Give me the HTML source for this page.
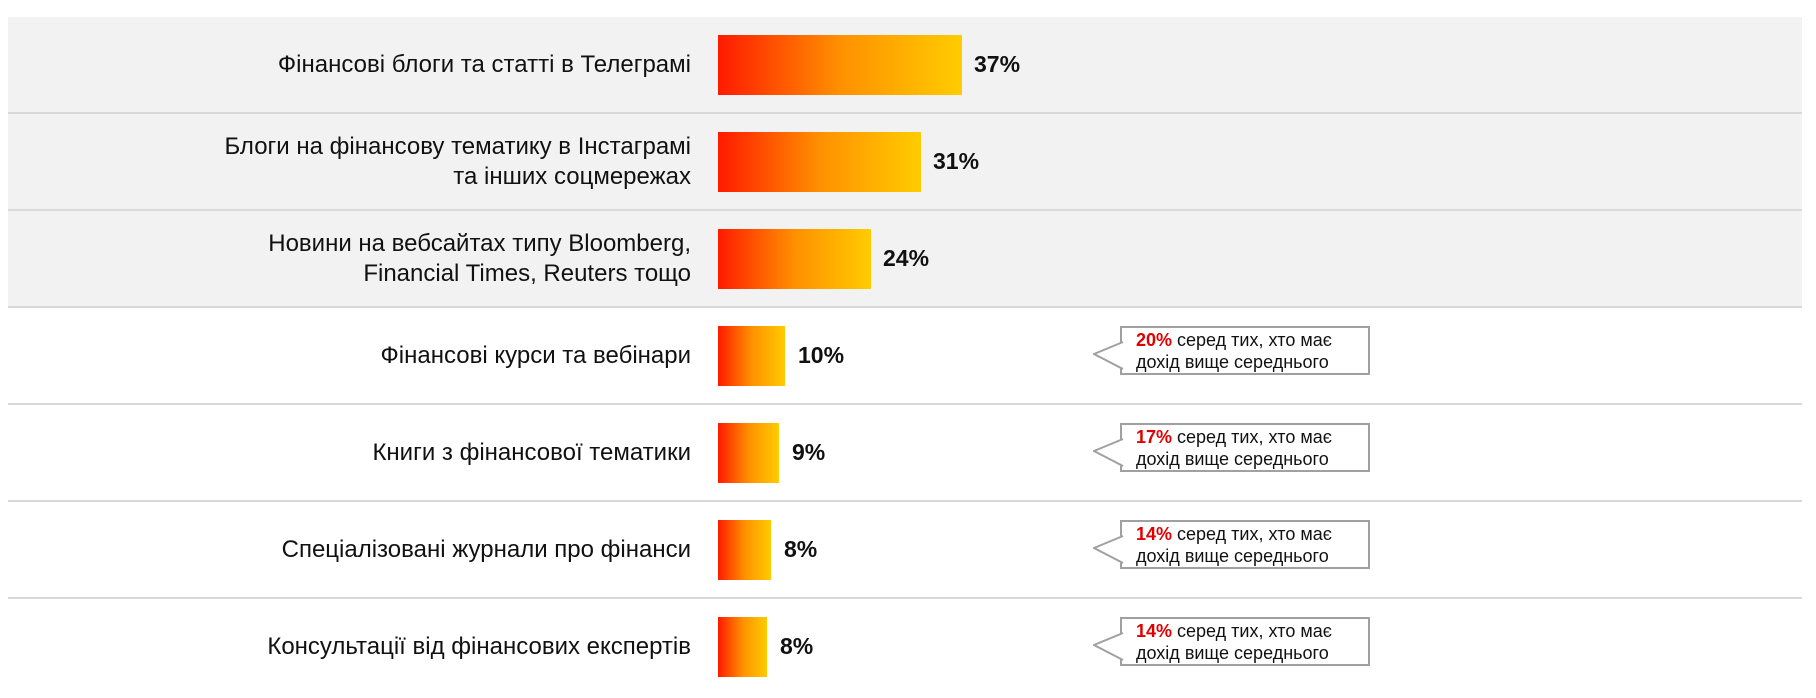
<!DOCTYPE html>
<html><head><meta charset="utf-8"><style>
body{margin:0;width:1816px;height:698px;background:#fff;font-family:"Liberation Sans",Arial,sans-serif;position:relative;overflow:hidden}
.row{position:absolute;left:8px;width:1794px;height:95px;border-bottom:2px solid #d9d9d9}
.g{background:#f2f2f2}
.lab{position:absolute;right:1111px;top:0;height:95px;display:flex;align-items:center;text-align:right;font-size:24px;line-height:30px;color:#111}
.bar{position:absolute;left:710px;top:18px;height:60px;background:linear-gradient(to right,#ff1a00,#ff9000 50%,#ffcc00)}
.val{position:absolute;top:0;height:95px;display:flex;align-items:center;font-weight:bold;font-size:23px;color:#111}
.co{position:absolute;left:1112px;top:18px;width:232px;height:44px;border:2px solid #a0a0a0;background:#fff;font-size:18px;line-height:22px;padding:1px 0 0 14px;box-sizing:content-box;color:#111}
.co b{color:#e00000}
.tip{position:absolute;left:1085px;top:0}
</style></head><body>
<div class="row g" style="top:17px"><div class="lab">Фінансові блоги та статті в Телеграмі</div><div class="bar" style="width:244px"></div><div class="val" style="left:966px">37%</div></div>
<div class="row g" style="top:114px"><div class="lab">Блоги на фінансову тематику в Інстаграмі<br>та інших соцмережах</div><div class="bar" style="width:203px"></div><div class="val" style="left:925px">31%</div></div>
<div class="row g" style="top:211px"><div class="lab">Новини на вебсайтах типу Bloomberg,<br>Financial Times, Reuters тощо</div><div class="bar" style="width:153px"></div><div class="val" style="left:875px">24%</div></div>
<div class="row" style="top:308px"><div class="lab">Фінансові курси та вебінари</div><div class="bar" style="width:67px"></div><div class="val" style="left:790px">10%</div>
<div class="co"><b>20%</b> серед тих, хто має<br>дохід вище середнього</div>
<svg class="tip" width="40" height="80"><polygon points="30,34 1,46 30,61" fill="#fff"/><polyline points="30,34 1,46 30,61" fill="none" stroke="#a0a0a0" stroke-width="2"/></svg></div>
<div class="row" style="top:405px"><div class="lab">Книги з фінансової тематики</div><div class="bar" style="width:61px"></div><div class="val" style="left:784px">9%</div>
<div class="co"><b>17%</b> серед тих, хто має<br>дохід вище середнього</div>
<svg class="tip" width="40" height="80"><polygon points="30,34 1,46 30,61" fill="#fff"/><polyline points="30,34 1,46 30,61" fill="none" stroke="#a0a0a0" stroke-width="2"/></svg></div>
<div class="row" style="top:502px"><div class="lab">Спеціалізовані журнали про фінанси</div><div class="bar" style="width:53px"></div><div class="val" style="left:776px">8%</div>
<div class="co"><b>14%</b> серед тих, хто має<br>дохід вище середнього</div>
<svg class="tip" width="40" height="80"><polygon points="30,34 1,46 30,61" fill="#fff"/><polyline points="30,34 1,46 30,61" fill="none" stroke="#a0a0a0" stroke-width="2"/></svg></div>
<div class="row" style="top:599px;border-bottom:none"><div class="lab">Консультації від фінансових експертів</div><div class="bar" style="width:49px"></div><div class="val" style="left:772px">8%</div>
<div class="co"><b>14%</b> серед тих, хто має<br>дохід вище середнього</div>
<svg class="tip" width="40" height="80"><polygon points="30,34 1,46 30,61" fill="#fff"/><polyline points="30,34 1,46 30,61" fill="none" stroke="#a0a0a0" stroke-width="2"/></svg></div>
</body></html>
